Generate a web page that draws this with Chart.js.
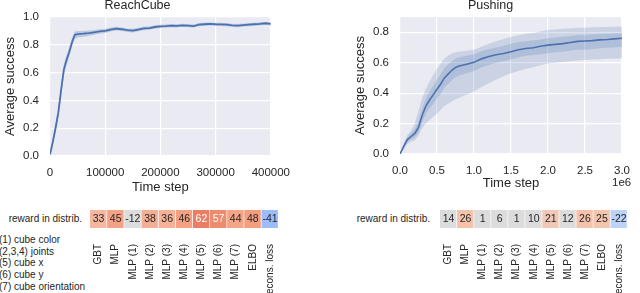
<!DOCTYPE html>
<html>
<head>
<meta charset="utf-8">
<script src="https://cdn.jsdelivr.net/npm/chart.js@4.4.0/dist/chart.umd.min.js"></script>
<style>
  body { margin: 0; width: 640px; height: 293px; overflow: hidden; position: relative; background: #fff;
         font-family: "Liberation Sans", Arial, sans-serif; color: #262626; }
  .box { position: absolute; }
  .rowname { position: absolute; font-size: 10px; text-align: right; width: 120px; line-height: 12px; }
  .legend { position: absolute; left: -1px; top: 234px; font-size: 10px; line-height: 11.7px; white-space: pre; }
</style>
</head>
<body>
<div class="box" style="left:0;top:-2px;width:300px;height:200px"><canvas id="reachChart"></canvas></div>
<div class="box" style="left:350px;top:-2px;width:290px;height:196px"><canvas id="pushChart"></canvas></div>
<div class="box" style="left:90px;top:210px;width:200px;height:83px"><canvas id="reachHeat"></canvas></div>
<div class="box" style="left:440px;top:210px;width:199px;height:83px"><canvas id="pushHeat"></canvas></div>
<div class="rowname" style="left:-38px;top:213px">reward in distrib.</div>
<div class="rowname" style="left:310px;top:213px">reward in distrib.</div>
<div class="box" style="left:612px;top:176px;font-size:11.5px">1e6</div>
<div class="legend">(1) cube color
(2,3,4) joints
(5) cube x
(6) cube y
(7) cube orientation</div>
<script>
// ReachCube learning curve
const reachX = [0, 5000, 10000, 15000, 20000, 25000, 30000, 35000, 40000, 45000, 50000,
  60000, 70000, 80000, 90000, 100000, 110000, 120000, 130000, 140000, 150000, 160000, 170000,
  180000, 190000, 200000, 210000, 220000, 230000, 240000, 250000, 260000, 270000, 280000,
  290000, 300000, 310000, 320000, 330000, 340000, 350000, 360000, 370000, 380000, 390000, 400000];
const reachMean = [0.01, 0.1, 0.2, 0.31, 0.47, 0.62, 0.69, 0.75, 0.82, 0.872, 0.877,
  0.88, 0.884, 0.89, 0.896, 0.9, 0.91, 0.916, 0.912, 0.905, 0.902, 0.91, 0.918,
  0.92, 0.928, 0.933, 0.935, 0.938, 0.936, 0.94, 0.938, 0.935, 0.945, 0.948,
  0.95, 0.948, 0.947, 0.945, 0.94, 0.938, 0.942, 0.945, 0.948, 0.95, 0.955, 0.95];
const reachLo = [0.0, 0.07, 0.165, 0.27, 0.43, 0.58, 0.655, 0.715, 0.79, 0.842, 0.852,
  0.858, 0.864, 0.872, 0.879, 0.885, 0.895, 0.902, 0.899, 0.892, 0.889, 0.897, 0.905,
  0.908, 0.916, 0.921, 0.924, 0.927, 0.925, 0.929, 0.927, 0.924, 0.934, 0.937,
  0.939, 0.937, 0.936, 0.934, 0.929, 0.927, 0.931, 0.934, 0.937, 0.939, 0.944, 0.939];
const reachHi = [0.02, 0.13, 0.235, 0.35, 0.51, 0.66, 0.725, 0.785, 0.85, 0.895, 0.9,
  0.9, 0.902, 0.907, 0.912, 0.915, 0.924, 0.93, 0.925, 0.918, 0.915, 0.923, 0.931,
  0.932, 0.94, 0.945, 0.946, 0.949, 0.947, 0.951, 0.949, 0.946, 0.956, 0.959,
  0.961, 0.959, 0.958, 0.956, 0.951, 0.949, 0.953, 0.956, 0.959, 0.961, 0.966, 0.961];

// Pushing learning curve
const pushX = [0, 50000, 100000, 150000, 200000, 250000, 300000, 350000, 400000, 450000,
  500000, 550000, 600000, 650000, 700000, 750000, 800000, 900000, 1000000, 1100000,
  1200000, 1300000, 1400000, 1500000, 1600000, 1700000, 1800000, 1900000, 2000000,
  2100000, 2200000, 2300000, 2400000, 2500000, 2600000, 2700000, 2800000, 2900000, 3000000];
const pushMean = [0, 0.05, 0.095, 0.115, 0.135, 0.175, 0.255, 0.315, 0.355, 0.39,
  0.425, 0.46, 0.5, 0.525, 0.55, 0.568, 0.578, 0.59, 0.602, 0.625,
  0.64, 0.652, 0.66, 0.672, 0.685, 0.693, 0.698, 0.708, 0.715,
  0.72, 0.725, 0.732, 0.74, 0.742, 0.745, 0.75, 0.752, 0.756, 0.76];
const pushInnerLo = [0, 0.04, 0.08, 0.095, 0.11, 0.14, 0.21, 0.265, 0.3, 0.33,
  0.364, 0.395, 0.435, 0.46, 0.485, 0.505, 0.515, 0.53, 0.545, 0.57,
  0.585, 0.6, 0.61, 0.62, 0.635, 0.645, 0.65, 0.655, 0.662,
  0.668, 0.672, 0.678, 0.685, 0.685, 0.69, 0.695, 0.698, 0.7, 0.705];
const pushInnerHi = [0, 0.06, 0.11, 0.135, 0.165, 0.215, 0.3, 0.365, 0.41, 0.45,
  0.49, 0.525, 0.565, 0.59, 0.61, 0.625, 0.635, 0.645, 0.655, 0.675,
  0.69, 0.7, 0.71, 0.725, 0.735, 0.74, 0.745, 0.752, 0.76,
  0.765, 0.77, 0.775, 0.782, 0.783, 0.785, 0.788, 0.79, 0.792, 0.795];
const pushOuterLo = [0, 0.03, 0.065, 0.08, 0.09, 0.12, 0.17, 0.2, 0.225, 0.245,
  0.265, 0.29, 0.315, 0.33, 0.345, 0.36, 0.37, 0.39, 0.41, 0.44,
  0.465, 0.49, 0.51, 0.53, 0.545, 0.56, 0.57, 0.585, 0.595,
  0.6, 0.605, 0.61, 0.615, 0.617, 0.62, 0.622, 0.625, 0.627, 0.628];
const pushOuterHi = [0, 0.07, 0.125, 0.155, 0.2, 0.285, 0.37, 0.43, 0.475, 0.52,
  0.56, 0.595, 0.625, 0.645, 0.66, 0.668, 0.672, 0.678, 0.685, 0.705,
  0.725, 0.74, 0.755, 0.77, 0.78, 0.79, 0.795, 0.805, 0.815,
  0.818, 0.822, 0.825, 0.83, 0.83, 0.832, 0.835, 0.835, 0.836, 0.837];

// heatmap rows
const methods = ['GBT', 'MLP', 'MLP (1)', 'MLP (2)', 'MLP (3)', 'MLP (4)', 'MLP (5)',
  'MLP (6)', 'MLP (7)', 'ELBO', 'recons. loss'];
const reachReward = [33, 45, -12, 38, 36, 46, 62, 57, 44, 48, -41];
const pushReward = [14, 26, 1, 6, 1, 10, 21, 12, 26, 25, -22];

const ink = '#262626';
const blue = '#4c72b0';
Chart.defaults.font.family = '"Liberation Sans", Arial, sans-serif';
Chart.defaults.color = ink;

const plotBg = {
  id: 'plotBg',
  beforeDraw(chart) {
    const a = chart.chartArea;
    const ctx = chart.ctx;
    ctx.save();
    ctx.fillStyle = '#eaeaf2';
    ctx.fillRect(a.left, a.top, a.right - a.left, a.bottom - a.top);
    ctx.restore();
  }
};

function pts(xs, ys) {
  return xs.map((x, i) => ({ x: x, y: ys[i] }));
}

function bandSets(xs, lo, hi, color) {
  return [
    { data: pts(xs, hi), borderWidth: 0, backgroundColor: color, fill: '+1', pointRadius: 0 },
    { data: pts(xs, lo), borderWidth: 0, backgroundColor: color, fill: false, pointRadius: 0 }
  ];
}

function meanSet(xs, ys, width) {
  return { data: pts(xs, ys), borderColor: blue, borderWidth: width, fill: false, pointRadius: 0 };
}

function curveChart(id, title, datasets, x, yMax, padRight, xHeight) {
  return new Chart(document.getElementById(id), {
    type: 'line',
    data: { datasets: datasets },
    options: {
      responsive: true,
      maintainAspectRatio: false,
      animation: false,
      layout: { padding: { left: 0, right: padRight, top: 0, bottom: 0 } },
      plugins: {
        legend: { display: false },
        tooltip: { enabled: false },
        title: { display: true, text: title, color: ink, font: { size: 12.5, weight: 'normal' },
                 padding: { top: 0, bottom: 4 } }
      },
      scales: {
        x: Object.assign({
          type: 'linear', min: 0,
          grid: { color: '#ffffff', lineWidth: 1.2, drawTicks: false },
          border: { display: false },
          title: { display: true, text: 'Time step', color: ink, font: { size: 13 }, padding: { top: 0, bottom: 3 } },
          afterFit: s => { s.height = xHeight; }
        }, x),
        y: {
          min: 0, max: yMax,
          grid: { color: '#ffffff', lineWidth: 1.2, drawTicks: false },
          border: { display: false },
          ticks: { stepSize: 0.2, padding: 11, font: { size: 11.5 }, color: ink, callback: v => v.toFixed(1) },
          afterBuildTicks: s => { s.ticks = s.ticks.filter(t => t.value <= 1.0001 && Math.abs(t.value * 5 - Math.round(t.value * 5)) < 1e-6); },
          title: { display: true, text: 'Average success', color: ink, font: { size: 13 }, padding: { top: 3, bottom: 0 } },
          afterFit: s => { s.width = 50; }
        }
      }
    },
    plugins: [plotBg]
  });
}

curveChart('reachChart', 'ReachCube',
  bandSets(reachX, reachLo, reachHi, 'rgba(76,114,176,0.28)').concat([meanSet(reachX, reachMean, 1.8)]),
  { max: 400000, ticks: { stepSize: 100000, padding: 10, font: { size: 11.5 }, color: ink, callback: v => String(v) } },
  1.0, 25, 42);

curveChart('pushChart', 'Pushing',
  bandSets(pushX, pushOuterLo, pushOuterHi, 'rgba(76,114,176,0.2)')
    .concat(bandSets(pushX, pushInnerLo, pushInnerHi, 'rgba(76,114,176,0.2)'))
    .concat([meanSet(pushX, pushMean, 1.6)]),
  { max: 3000000, ticks: { stepSize: 500000, padding: 10, font: { size: 11.5 }, color: ink, callback: v => (v / 1e6).toFixed(1) } },
  0.9, 9, 40);

// coolwarm colormap, centred on zero, range -100..100
const cwStops = [[59, 76, 192], [98, 130, 234], [141, 176, 254], [184, 208, 249], [221, 221, 221],
  [245, 196, 173], [244, 154, 123], [222, 96, 77], [180, 4, 38]];
function coolwarm(v) {
  const t = Math.max(0, Math.min(1, (v + 100) / 200)) * (cwStops.length - 1);
  const i = Math.min(cwStops.length - 2, Math.floor(t));
  const f = t - i;
  const c = cwStops[i].map((a, k) => Math.round(a + (cwStops[i + 1][k] - a) * f));
  return 'rgb(' + c.join(',') + ')';
}
function cellColor(v) {
  return Math.abs(v) < 20 ? '#dcdcdc' : coolwarm(v);
}

const cellText = {
  id: 'cellText',
  afterDatasetsDraw(chart) {
    const ctx = chart.ctx;
    const vals = chart.data.datasets[0].values;
    ctx.save();
    ctx.font = '10.5px "Liberation Sans", Arial, sans-serif';
    ctx.textAlign = 'center';
    ctx.textBaseline = 'middle';
    chart.getDatasetMeta(0).data.forEach((bar, i) => {
      ctx.fillStyle = Math.abs(vals[i]) >= 55 ? '#ffffff' : ink;
      ctx.fillText(String(vals[i]), bar.x, (bar.y + bar.base) / 2 + 0.5);
    });
    ctx.restore();
  }
};

function heatRow(id, values) {
  return new Chart(document.getElementById(id), {
    type: 'bar',
    data: {
      labels: methods,
      datasets: [{
        values: values,
        data: values.map(() => 1),
        backgroundColor: values.map(cellColor),
        borderColor: 'rgba(255,255,255,0.7)',
        borderWidth: { left: 0, right: 1, top: 0, bottom: 0 },
        borderSkipped: false,
        barPercentage: 1,
        categoryPercentage: 1
      }]
    },
    options: {
      responsive: true,
      maintainAspectRatio: false,
      animation: false,
      layout: { padding: 0 },
      plugins: { legend: { display: false }, tooltip: { enabled: false } },
      scales: {
        x: {
          grid: { display: false },
          border: { display: false },
          ticks: { autoSkip: false, minRotation: 90, maxRotation: 90, padding: 8, font: { size: 10 }, color: ink },
          afterFit: s => { s.height = 65; }
        },
        y: { display: false, min: 0, max: 1 }
      }
    },
    plugins: [cellText]
  });
}

heatRow('reachHeat', reachReward);
heatRow('pushHeat', pushReward);
</script>
</body>
</html>
